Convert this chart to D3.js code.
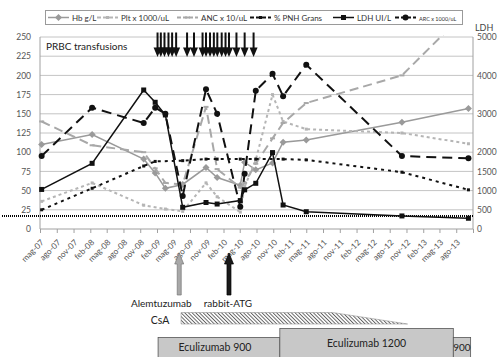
<!DOCTYPE html>
<html>
<head>
<meta charset="utf-8">
<script src="https://cdn.jsdelivr.net/npm/d3@7"></script>
<style>
  body { margin: 0; background: #fff; }
  svg { display: block; font-family: Lato, "Open Sans", sans-serif; }
</style>
</head>
<body>
<div id="chart"></div>
<script>
// sample dates and series
const dates = ["2007-05-10", "2008-02-11", "2008-11-20", "2009-01-22", "2009-03-19", "2009-06-22",
  "2009-10-28", "2009-12-28", "2010-05-04", "2010-05-28", "2010-07-28", "2010-10-28",
  "2010-12-25", "2011-05-01", "2012-10-07", "2013-10-07"];
const hb  = [110, 123, 91, 73, 53, 58, 80, 67, 57, 87, 77, 86, 113, 116, 139, 157];
const plt = [36, 60, 31, null, 26, 23, 60, 42, 22, 55, 90, 175, 140, 130, 125, 111];
const anc = [140, 109, 100, 79, 60, 58, 159, 78, 54, 60, 85, 118, 138, 164, 200, 286];
const pnh = [25, 53, 82, 88, null, 89, 91, 91, 91, null, 91, null, 91, 90, 74, 51];
const ldh = [1030, 1710, 3620, 3300, 2970, 565, 690, 650, 740, 1020, 1190, 1990, 625, 450, 340, 280];
const arc = [95, 158, 138, 158, 150, 43, 182, 150, 29, 72, 180, 202, 173, 214, 95, 92];
const ldhULN = 340;

const transfusions = ["2009-02-04", "2009-02-22", "2009-03-14", "2009-04-05", "2009-04-25", "2009-05-17",
  "2009-07-16", "2009-08-23", "2009-10-09", "2009-10-28", "2009-11-19", "2009-12-10", "2009-12-29",
  "2010-01-22", "2010-02-12", "2010-03-03", "2010-04-13", "2010-05-28", "2010-07-16"];

const leftTicks = d3.range(0, 251, 25);
const rightTicks = [0, 500, 1000, 1500, 2000, 3000, 4000, 5000];

const alemtuzumabDate = "2009-06-03";
const atgDate = "2010-03-03";
const csaDates = ["2009-06-13", "2011-09-22", "2012-11-07"]; // start, taper start, stop
const eculizumabLabels = ["Eculizumab 900", "Eculizumab 1200", "900"];
const eculizumabStarts = ["2009-02-07", "2010-12-07", "2013-07-16"];
const eculizumabEnds   = ["2010-12-07", "2013-07-16", "2013-10-19"];

const parse = d3.timeParse("%Y-%m-%d");
const itMonths = ["gen", "feb", "mar", "apr", "mag", "giu", "lug", "ago", "set", "ott", "nov", "dic"];
const fmtMonth = d => itMonths[d.getMonth()] + "-" + d3.timeFormat("%y")(d);

const width = 500, height = 357;
const pLeft = 40, pRight = 473, pTop = 37, pBottom = 229;

const x = d3.scaleTime().domain([new Date(2007, 4, 1), new Date(2013, 10, 1)]).range([pLeft, pRight]);
const y = d3.scaleLinear().domain([0, 250]).range([pBottom, pTop]);
const yR = d3.scaleLinear().domain([0, 5000]).range([pBottom, pTop]);

const svg = d3.select("#chart").append("svg")
  .attr("width", width)
  .attr("height", height)
  .attr("viewBox", [0, 0, width, height]);

const defs = svg.append("defs");
defs.append("clipPath").attr("id", "plot")
  .append("rect").attr("x", pLeft - 5).attr("y", pTop - 2).attr("width", pRight - pLeft + 10).attr("height", pBottom - pTop + 8);
const hatch = defs.append("pattern").attr("id", "hatch")
  .attr("patternUnits", "userSpaceOnUse").attr("width", 2.6).attr("height", 2.6)
  .attr("patternTransform", "rotate(-45)");
hatch.append("rect").attr("width", 2.6).attr("height", 2.6).attr("fill", "#fff");
hatch.append("line").attr("x1", 0.5).attr("y1", 0).attr("x2", 0.5).attr("y2", 2.6)
  .attr("stroke", "#444").attr("stroke-width", 0.8);

// gridlines
svg.append("g")
  .selectAll("line")
  .data(leftTicks.filter(d => d > 0))
  .join("line")
  .attr("x1", pLeft).attr("x2", pRight)
  .attr("y1", d => y(d)).attr("y2", d => y(d))
  .attr("stroke", "#c4c4c4");

// axes
const gLeft = svg.append("g")
  .attr("transform", `translate(${pLeft},0)`)
  .call(d3.axisLeft(y).tickValues(leftTicks).tickSize(0).tickPadding(9));
const gRight = svg.append("g")
  .attr("transform", `translate(${pRight},0)`)
  .call(d3.axisRight(yR).tickValues(rightTicks).tickSize(0).tickPadding(4).tickFormat(d3.format("d")));
const gx = svg.append("g")
  .attr("transform", `translate(0,${pBottom})`)
  .call(d3.axisBottom(x)
    .tickValues(d3.timeMonth.range(new Date(2007, 4, 1), new Date(2013, 10, 2), 3))
    .tickSize(4)
    .tickFormat(d => d < new Date(2013, 9, 1) ? fmtMonth(d) : ""));
gx.selectAll("text")
  .attr("text-anchor", "end")
  .attr("transform", "translate(-3,7) rotate(-45)")
  .attr("dy", "0.35em");

[gLeft, gRight, gx].forEach(g => {
  g.select(".domain").attr("stroke", "#a0a0a0");
  g.selectAll(".tick line").attr("stroke", "#a0a0a0");
  g.selectAll("text").attr("fill", "#555").attr("font-size", 8.5).attr("font-family", "Lato, sans-serif");
});
gx.selectAll("text").attr("font-size", 8.2);
gx.select(".domain").attr("d", `M${pLeft},0H${pRight}`);
gRight.select(".domain").attr("d", `M0,${pTop}V${pBottom}`);
gLeft.select(".domain").attr("d", `M0,${pTop}V${pBottom}`);

svg.append("text")
  .attr("x", pRight + 2).attr("y", 31)
  .attr("font-size", 9).attr("fill", "#444")
  .text("LDH");

// LDH upper normal limit
svg.append("line")
  .attr("x1", 2).attr("x2", pRight)
  .attr("y1", yR(ldhULN)).attr("y2", yR(ldhULN))
  .attr("stroke", "#000").attr("stroke-width", 2).attr("stroke-dasharray", "1,1");

// series
const diamond = "M0,-3.5L3.5,0L0,3.5L-3.5,0Z";
const series = [
  { name: "Hb g/L", values: hb, scale: y, color: "#9a9a9a", w: 1.5, dash: null, marker: "diamond" },
  { name: "Plt x 1000/uL", values: plt, scale: y, color: "#b5b5b5", w: 2, dash: "3,3", marker: "smallsq" },
  { name: "ANC x 10/uL", values: anc, scale: y, color: "#a8a8a8", w: 2, dash: "9,5", marker: "bar" },
  { name: "% PNH Grans", values: pnh, scale: y, color: "#111", w: 2, dash: "3,4", marker: "smallsq" },
  { name: "LDH UI/L", values: ldh, scale: yR, color: "#111", w: 1.5, dash: null, marker: "square" },
  { name: "ARC x 1000/uL", values: arc, scale: y, color: "#111", w: 2, dash: "10,6", marker: "circle" }
];

function drawMarker(g, type, color) {
  if (type === "diamond") g.append("path").attr("d", diamond).attr("fill", color);
  else if (type === "square") g.append("rect").attr("x", -2.5).attr("y", -2.5).attr("width", 5).attr("height", 5).attr("fill", color);
  else if (type === "smallsq") g.append("rect").attr("x", -1.5).attr("y", -1.5).attr("width", 3).attr("height", 3).attr("fill", color);
  else if (type === "bar") g.append("rect").attr("x", -2.5).attr("y", -1).attr("width", 5).attr("height", 2).attr("fill", color);
  else if (type === "circle") g.append("circle").attr("r", 3).attr("fill", color);
}

const plot = svg.append("g").attr("clip-path", "url(#plot)");
series.forEach(s => {
  const pts = dates.map((d, i) => ({ date: parse(d), v: s.values[i] })).filter(d => d.v != null);
  const line = d3.line().x(d => x(d.date)).y(d => s.scale(d.v));
  plot.append("path")
    .datum(pts)
    .attr("fill", "none")
    .attr("stroke", s.color)
    .attr("stroke-width", s.w)
    .attr("stroke-dasharray", s.dash)
    .attr("d", line);
  pts.filter(d => s.scale(d.v) >= pTop).forEach(d => {
    const g = plot.append("g").attr("transform", `translate(${x(d.date)},${s.scale(d.v)})`);
    drawMarker(g, s.marker, s.color);
  });
});

// transfusion arrows
svg.append("text")
  .attr("x", 46).attr("y", 50)
  .attr("font-size", 10).attr("fill", "#222")
  .text("PRBC transfusions");
const tg = svg.append("g").attr("fill", "#111").attr("stroke", "#111");
transfusions.forEach(d => {
  const xx = x(parse(d));
  tg.append("line").attr("x1", xx).attr("x2", xx).attr("y1", 32.5).attr("y2", 50).attr("stroke-width", 2);
  tg.append("path").attr("d", `M${xx - 4},47.5L${xx + 4},47.5L${xx},57Z`).attr("stroke", "none");
});

// legend
const lg = svg.append("g");
lg.append("rect").attr("x", 45.5).attr("y", 10.5).attr("width", 417).attr("height", 14)
  .attr("fill", "#fff").attr("stroke", "#9a9a9a");
const legendX = [48, 97, 177, 250, 333, 395];
series.forEach((s, i) => {
  const x0 = legendX[i];
  lg.append("line").attr("x1", x0).attr("x2", x0 + 21).attr("y1", 17.5).attr("y2", 17.5)
    .attr("stroke", s.color).attr("stroke-width", s.w).attr("stroke-dasharray", s.dash ? "4,2" : null);
  drawMarker(lg.append("g").attr("transform", `translate(${x0 + 10.5},17.5)`), s.marker, s.color);
  lg.append("text").attr("x", x0 + 24).attr("y", 20.5)
    .attr("font-size", i === 5 ? 5.5 : 8).attr("fill", "#333")
    .text(s.name);
});

// therapy annotations
function upArrow(xx, fill, stroke) {
  svg.append("path")
    .attr("d", `M${xx},253L${xx + 4.5},264L${xx + 2},264L${xx + 2},295L${xx - 2},295L${xx - 2},264L${xx - 4.5},264Z`)
    .attr("fill", fill).attr("stroke", stroke).attr("stroke-width", 0.7);
}
upArrow(x(parse(alemtuzumabDate)), "#a8a8a8", "#777");
upArrow(x(parse(atgDate)), "#1a1a1a", "#000");
svg.append("text").attr("x", x(parse(alemtuzumabDate)) - 18).attr("y", 307)
  .attr("text-anchor", "middle").attr("font-size", 10).attr("fill", "#222").text("Alemtuzumab");
svg.append("text").attr("x", x(parse(atgDate)) - 1).attr("y", 307)
  .attr("text-anchor", "middle").attr("font-size", 10).attr("fill", "#222").text("rabbit-ATG");

const c0 = x(parse(csaDates[0])), c1 = x(parse(csaDates[1])), c2 = x(parse(csaDates[2]));
svg.append("path")
  .attr("d", `M${c0},312.5L${c1},312.5L${c2},324L${c0},324Z`)
  .attr("fill", "url(#hatch)").attr("stroke", "#999").attr("stroke-width", 0.6);
svg.append("text").attr("x", 160).attr("y", 323.5)
  .attr("text-anchor", "middle").attr("font-size", 10.5).attr("fill", "#222").text("CsA");

eculizumabLabels.forEach((label, i) => {
  const x0 = x(parse(eculizumabStarts[i])), x1 = x(parse(eculizumabEnds[i]));
  const y0 = i === 1 ? 328.5 : 337.5;
  svg.append("rect").attr("x", x0).attr("y", y0).attr("width", x1 - x0).attr("height", 30)
    .attr("fill", "#c8c8c8").attr("stroke", "#555").attr("stroke-width", 0.8);
  svg.append("text").attr("x", (x0 + x1) / 2 - (i === 0 ? 4 : 0)).attr("y", (y0 + 357) / 2 + 4)
    .attr("text-anchor", "middle").attr("font-size", i === 2 ? 10 : 10.5).attr("fill", "#222").text(label);
});
</script>
</body>
</html>
